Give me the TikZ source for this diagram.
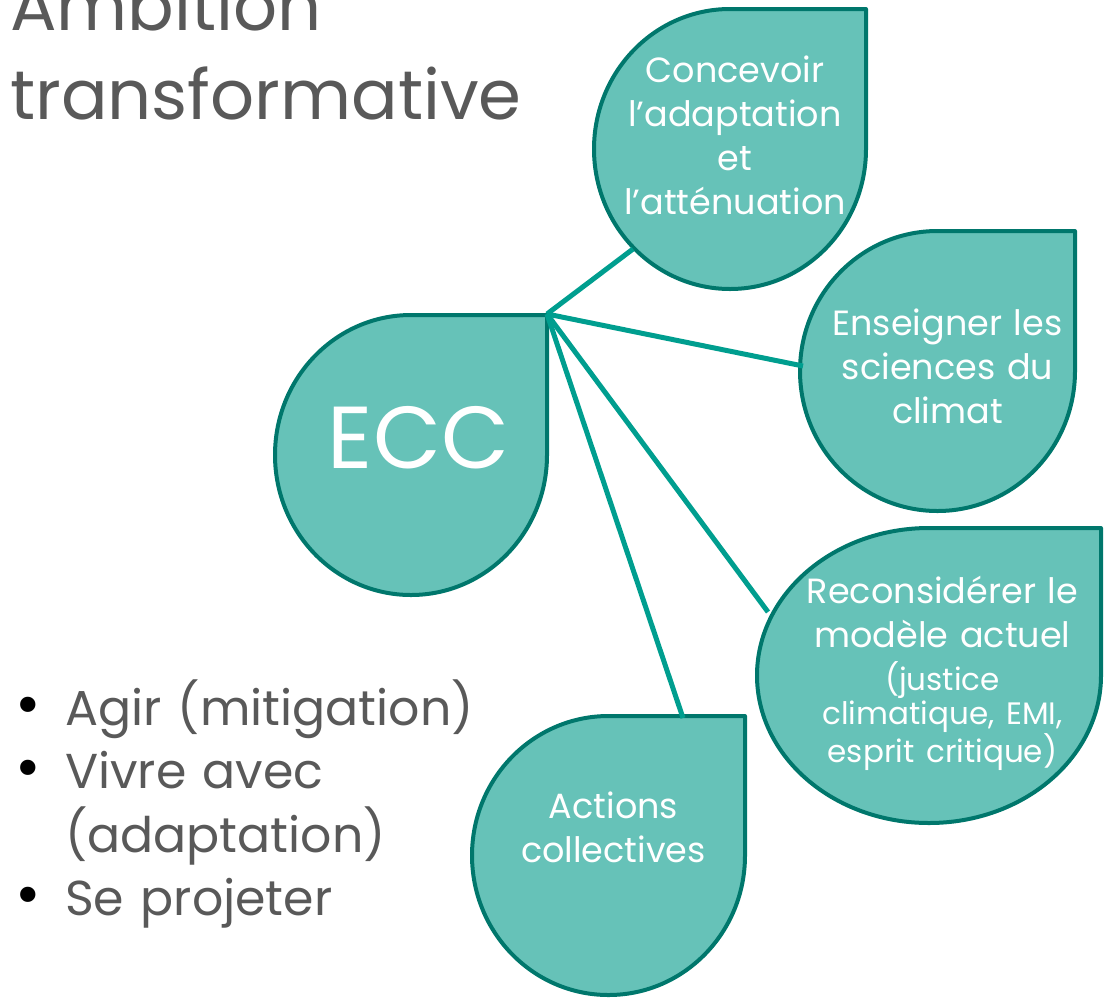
\documentclass[tikz,border=0pt]{standalone}
\usepackage{fontspec}
\setmainfont{Poppins}
\definecolor{dropfill}{RGB}{102,194,184}
\definecolor{dropline}{RGB}{0,119,108}
\definecolor{linkline}{RGB}{0,158,143}
\definecolor{textgray}{RGB}{89,89,89}
\newcommand{\teardrop}[4]{%
  \draw[drop] (#1+#3,#2-#4) -- (#1,#2-#4)
    arc[start angle=-90,end angle=-360,x radius=#3,y radius=#4] -- cycle;}
\tikzset{
  drop/.style={fill=dropfill,draw=dropline,line width=4pt,line join=round},
  link/.style={draw=linkline,line width=5pt},
  droptext/.style={text=white,align=center,text width=290pt,inner sep=0pt,anchor=base,
    font=\fontsize{35}{44}\selectfont},
  titletext/.style={text=textgray,align=left,text width=700pt,inner sep=0pt,anchor=base west,
    font=\fontsize{69}{89}\selectfont},
  bullettext/.style={text=textgray,align=left,text width=450pt,inner sep=0pt,anchor=base west,
    font=\fontsize{49}{64}\selectfont},
  bulletdot/.style={text=black,inner sep=0pt,anchor=base,font=\fontsize{62}{62}\selectfont},
}
\begin{document}
\begin{tikzpicture}[x=1pt,y=-1pt]
\useasboundingbox (0,0) rectangle (1107,999);
% title
\node[titletext] (title) at (10,30) {Ambition\\transformative};
% teardrops
\teardrop{411}{455}{136}{140}
\teardrop{730}{149}{136}{140}
\teardrop{937.5}{371}{137.5}{140}
\teardrop{929}{675.5}{172}{147.5}
\teardrop{608.5}{855.5}{136.5}{139.5}
% labels
\node[text=white,inner sep=0pt,anchor=base,font=\fontsize{88}{88}\selectfont] (ecc) at (418.5,468) {ECC};
\node[droptext] (conc) at (735,82) {Concevoir\\l’adaptation\\et\\l’atténuation};
\node[droptext] (ens) at (947.5,335) {Enseigner les\\sciences du\\climat};
\node[droptext] (recon) at (942.5,603) {Reconsidérer le\\modèle actuel\par\vspace{10pt}%
  {\fontsize{31}{33.5}\selectfont (justice\\climatique, EMI,\\esprit critique)\par}};
\node[droptext] (act) at (613.5,818) {Actions\\collectives};
% connectors
\coordinate (ecc-tip) at (547,314);
\coordinate (conc-in) at (633,249);
\coordinate (ens-in) at (803,366);
\coordinate (recon-in) at (768,612);
\coordinate (act-in) at (683,718);
\draw[link] (ecc-tip) -- (conc-in);
\draw[link] (ecc-tip) -- (ens-in);
\draw[link] (ecc-tip) -- (recon-in);
\draw[link] (ecc-tip) -- (act-in);
% bullet list
\node[bulletdot] (d1) at (28,725) {•};
\node[bulletdot] (d2) at (28,788) {•};
\node[bulletdot] (d3) at (28,915) {•};
\node[bullettext] (b1) at (65,725) {Agir (mitigation)};
\node[bullettext] (b2) at (65,788) {Vivre avec\\(adaptation)};
\node[bullettext] (b3) at (65,915) {Se projeter};
\end{tikzpicture}
\end{document}
